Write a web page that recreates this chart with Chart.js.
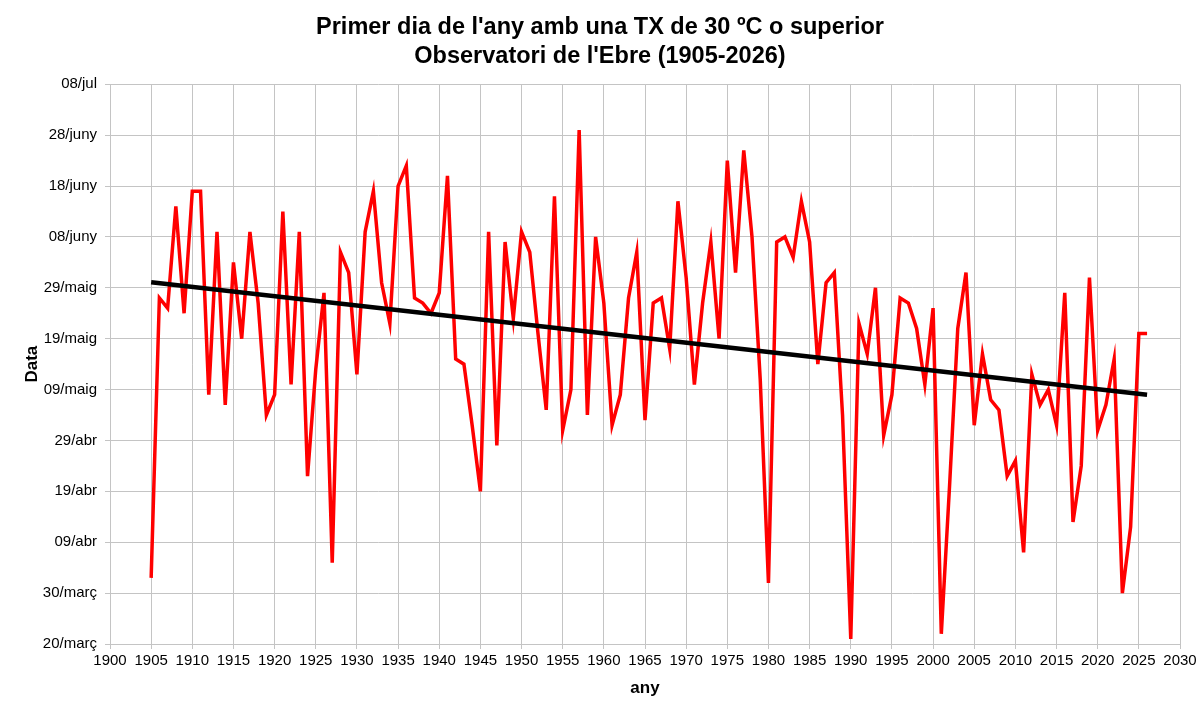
<!DOCTYPE html>
<html>
<head>
<meta charset="utf-8">
<script src="https://cdn.jsdelivr.net/npm/chart.js@4/dist/chart.umd.min.js"></script>
<style>
  html, body { margin: 0; padding: 0; background: #fff; }
  canvas { display: block; }
</style>
</head>
<body>
<canvas id="chart" width="1200" height="713"></canvas>
<script>
// day of year (non leap) of the first day with TX >= 30 ºC
var years = [
  1905, 1906, 1907, 1908, 1909, 1910, 1911, 1912, 1913, 1914,
  1915, 1916, 1917, 1918, 1919, 1920, 1921, 1922, 1923, 1924,
  1925, 1926, 1927, 1928, 1929, 1930, 1931, 1932, 1933, 1934,
  1935, 1936, 1937, 1938, 1939, 1940, 1941, 1942, 1943, 1944,
  1945, 1946, 1947, 1948, 1949, 1950, 1951, 1952, 1953, 1954,
  1955, 1956, 1957, 1958, 1959, 1960, 1961, 1962, 1963, 1964,
  1965, 1966, 1967, 1968, 1969, 1970, 1971, 1972, 1973, 1974,
  1975, 1976, 1977, 1978, 1979, 1980, 1981, 1982, 1983, 1984,
  1985, 1986, 1987, 1988, 1989, 1990, 1991, 1992, 1993, 1994,
  1995, 1996, 1997, 1998, 1999, 2000, 2001, 2002, 2003, 2004,
  2005, 2006, 2007, 2008, 2009, 2010, 2011, 2012, 2013, 2014,
  2015, 2016, 2017, 2018, 2019, 2020, 2021, 2022, 2023, 2024,
  2025, 2026
];
var firstDay = [
  92, 147, 145, 165, 144, 168, 168, 128, 160, 126,
  154, 139, 160, 146, 124, 128, 164, 130, 160, 112,
  133, 148, 95, 156, 152, 132, 160, 168, 150, 142,
  169, 173, 147, 146, 144, 148, 171, 135, 134, 122,
  109, 160, 118, 158, 143, 160, 156, 140, 125, 167,
  121, 129, 180, 124, 159, 146, 122, 128, 147, 156,
  123, 146, 147, 137, 166, 151, 130, 146, 158, 139,
  174, 152, 176, 159, 131, 91, 158, 159, 155, 166,
  158, 134, 150, 152, 124, 80, 142, 136, 149, 120,
  128, 147, 146, 141, 130, 145, 81, 110, 141, 152,
  122, 136, 127, 125, 112, 115, 97, 132, 126, 129,
  122, 148, 103, 114, 151, 121, 126, 135, 89, 102,
  140, 140
];

// linear trend, read at both ends
var trendYears = [1905, 2026];
var trendDays = [150.1, 128.0];

var yTickDays = [79, 89, 99, 109, 119, 129, 139, 149, 159, 169, 179, 189];
var yTickLabels = ['20/març', '30/març', '09/abr', '19/abr', '29/abr', '09/maig',
  '19/maig', '29/maig', '08/juny', '18/juny', '28/juny', '08/jul'];
var xTickYears = [1900, 1905, 1910, 1915, 1920, 1925, 1930, 1935, 1940, 1945, 1950,
  1955, 1960, 1965, 1970, 1975, 1980, 1985, 1990, 1995, 2000, 2005, 2010, 2015,
  2020, 2025, 2030];

Chart.defaults.font.family = "'Liberation Sans', Arial, sans-serif";
Chart.defaults.color = '#000';

var gridColor = '#c4c4c4';

new Chart(document.getElementById('chart'), {
  type: 'line',
  data: {
    datasets: [{
      data: trendYears.map(function(y, i) { return {x: y, y: trendDays[i]}; }),
      borderColor: '#000',
      borderWidth: 4.5,
      pointRadius: 0,
      order: 0
    }, {
      data: years.map(function(y, i) { return {x: y, y: firstDay[i]}; }),
      borderColor: '#ff0000',
      borderWidth: 3.5,
      pointRadius: 0,
      order: 1
    }]
  },
  options: {
    responsive: false,
    animation: false,
    devicePixelRatio: 1,
    layout: { padding: { top: 0, right: 10, bottom: 0, left: 10 } },
    plugins: {
      legend: { display: false },
      tooltip: { enabled: false },
      title: {
        display: true,
        text: ["Primer dia de l'any amb una TX de 30 ºC o superior", "Observatori de l'Ebre (1905-2026)"],
        font: { size: 23.5, weight: 'bold', lineHeight: 1.24 },
        padding: { top: 13, bottom: 13 }
      }
    },
    scales: {
      x: {
        type: 'linear',
        min: 1900,
        max: 2030,
        afterBuildTicks: function(scale) {
          scale.ticks = xTickYears.map(function(v) { return {value: v}; });
        },
        afterFit: function(scale) { scale.height = 69; },
        ticks: {
          font: { size: 15 },
          maxRotation: 0,
          autoSkip: false,
          padding: 3,
          callback: function(value) { return String(value); }
        },
        grid: { color: gridColor, tickLength: 5 },
        border: { color: gridColor },
        title: {
          display: true,
          text: 'any',
          font: { size: 17, weight: 'bold' },
          padding: { top: 4, bottom: 14 }
        }
      },
      y: {
        type: 'linear',
        min: 79,
        max: 189,
        afterBuildTicks: function(scale) {
          scale.ticks = yTickDays.map(function(v) { return {value: v}; });
        },
        afterFit: function(scale) { scale.width = 100; },
        ticks: {
          font: { size: 15 },
          autoSkip: false,
          padding: 8,
          callback: function(value, index) { return yTickLabels[index]; }
        },
        grid: { color: gridColor, tickLength: 5 },
        border: { color: gridColor },
        title: {
          display: true,
          text: 'Data',
          font: { size: 17, weight: 'bold' },
          padding: { top: 12, bottom: 4 }
        }
      },
      // empty spacer on the right so the title stays centred on the page
      spacer: {
        type: 'linear',
        position: 'right',
        afterFit: function(scale) { scale.width = 10; },
        ticks: { display: false },
        grid: { display: false },
        border: { display: false }
      }
    }
  },
  plugins: [{
    id: 'whiteBg',
    beforeDraw: function(chart) {
      var ctx = chart.ctx;
      ctx.save();
      ctx.fillStyle = '#fff';
      ctx.fillRect(0, 0, chart.width, chart.height);
      ctx.restore();
    }
  }]
});
</script>
</body>
</html>
